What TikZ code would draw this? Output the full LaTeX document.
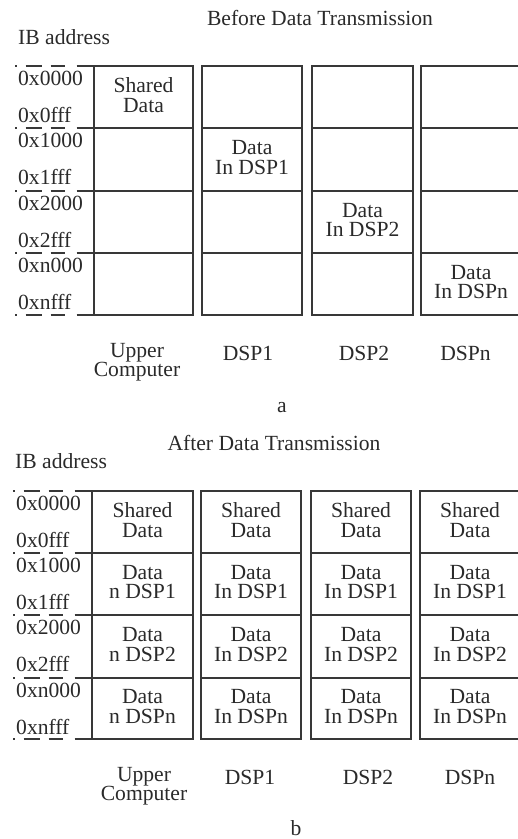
\documentclass[tikz,border=0pt]{standalone}
\usepackage{fontspec}
\setmainfont{Liberation Serif}
\definecolor{ink}{HTML}{2A2A2A}
\definecolor{frame}{HTML}{383838}
\tikzset{
  every node/.style={font=\fontsize{21.6}{19.5}\selectfont, text=ink},
  cell/.style={draw=frame, line width=1.5pt, inner sep=0pt, outer sep=0pt},
  celltext/.style={align=center, inner sep=0pt},
  addr/.style={anchor=base west, inner sep=0pt},
  lbl/.style={anchor=base, inner sep=0pt},
  addrline/.style={draw=frame, line width=1.3pt,
    dash pattern=on 1.5pt off 9pt on 16pt off 9pt on 14pt off 12pt on 20pt},
}
\begin{document}
\begin{tikzpicture}[x=1pt, y=-1pt]
\useasboundingbox (0,0) rectangle (518,839);
\clip (0,0) rectangle (518,839);

% ---------- (a) before transmission ----------
\node[lbl] (titleA) at (320,25) {Before Data Transmission};
\node[addr] (ibA) at (18,44) {IB address};

\foreach \c/\l/\r in {1/94/193, 2/202/302, 3/312/413, 4/421/521}
  \foreach \k/\t/\b in {1/66/128, 2/128/191, 3/191/253, 4/253/315}
    \node[cell, minimum width={(\r-\l)*1pt}, minimum height={(\b-\t)*1pt}]
      (a\c\k) at ({(\l+\r)/2},{(\t+\b)/2}) {};

\foreach \k/\t/\s/\e in {1/66/0x0000/0x0fff, 2/128/0x1000/0x1fff,
                          3/191/0x2000/0x2fff, 4/253/0xn000/0xnfff} {
  \draw[addrline] (15,\t) -- (a1\k.north west);
  \node[addr] (aS\k) at (18,\t+19) {\s};
  \node[addr] (aE\k) at (18,\t+56) {\e};
}
\draw[addrline] (15,315) -- (a14.south west);

\node[celltext] (ta1) at ([yshift=2pt]a11.center) {Shared\\Data};
\node[celltext] (ta2) at ([yshift=2pt]a22.center) {Data\\In DSP1};
\node[celltext] (ta3) at ([yshift=2pt]a33.center) {Data\\In DSP2};
\node[celltext] (ta4) at ([yshift=2pt]a44.center) {Data\\In DSPn};

\node[celltext] (upA) at (137,362) {Upper\\Computer};
\node[lbl] (dsp1A) at (248,360) {DSP1};
\node[lbl] (dsp2A) at (364,360) {DSP2};
\node[lbl] (dspnA) at (465.5,360) {DSPn};
\node[lbl] (capA) at (282,412) {a};

% ---------- (b) after transmission ----------
\node[lbl] (titleB) at (274,450) {After Data Transmission};
\node[addr] (ibB) at (15,468) {IB address};

\foreach \c/\l/\r in {1/92/193, 2/201/301, 3/311/411, 4/420/520}
  \foreach \k/\t/\b in {1/491/553, 2/553/615, 3/615/678, 4/678/739}
    \node[cell, minimum width={(\r-\l)*1pt}, minimum height={(\b-\t)*1pt}]
      (b\c\k) at ({(\l+\r)/2},{(\t+\b)/2}) {};

\foreach \k/\t/\s/\e in {1/491/0x0000/0x0fff, 2/553/0x1000/0x1fff,
                          3/615/0x2000/0x2fff, 4/678/0xn000/0xnfff} {
  \draw[addrline] (13,\t) -- (b1\k.north west);
  \node[addr] (bS\k) at (16,\t+19) {\s};
  \node[addr] (bE\k) at (16,\t+56) {\e};
}
\draw[addrline] (13,739) -- (b14.south west);

% upper computer column
\node[celltext] (tb11) at ([yshift=2pt]b11.center) {Shared\\Data};
\node[celltext] (tb12) at ([yshift=2pt]b12.center) {Data\\n DSP1};
\node[celltext] (tb13) at ([yshift=2pt]b13.center) {Data\\n DSP2};
\node[celltext] (tb14) at ([yshift=2pt]b14.center) {Data\\n DSPn};
% DSP columns
\foreach \c in {2,3,4} {
  \node[celltext] (tb\c1) at ([yshift=2pt]b\c1.center) {Shared\\Data};
  \node[celltext] (tb\c2) at ([yshift=2pt]b\c2.center) {Data\\In DSP1};
  \node[celltext] (tb\c3) at ([yshift=2pt]b\c3.center) {Data\\In DSP2};
  \node[celltext] (tb\c4) at ([yshift=2pt]b\c4.center) {Data\\In DSPn};
}

\node[celltext] (upB) at (144,786) {Upper\\Computer};
\node[lbl] (dsp1B) at (250,784) {DSP1};
\node[lbl] (dsp2B) at (368,784) {DSP2};
\node[lbl] (dspnB) at (470,784) {DSPn};
\node[lbl] (capB) at (296,835) {b};
\end{tikzpicture}
\end{document}
